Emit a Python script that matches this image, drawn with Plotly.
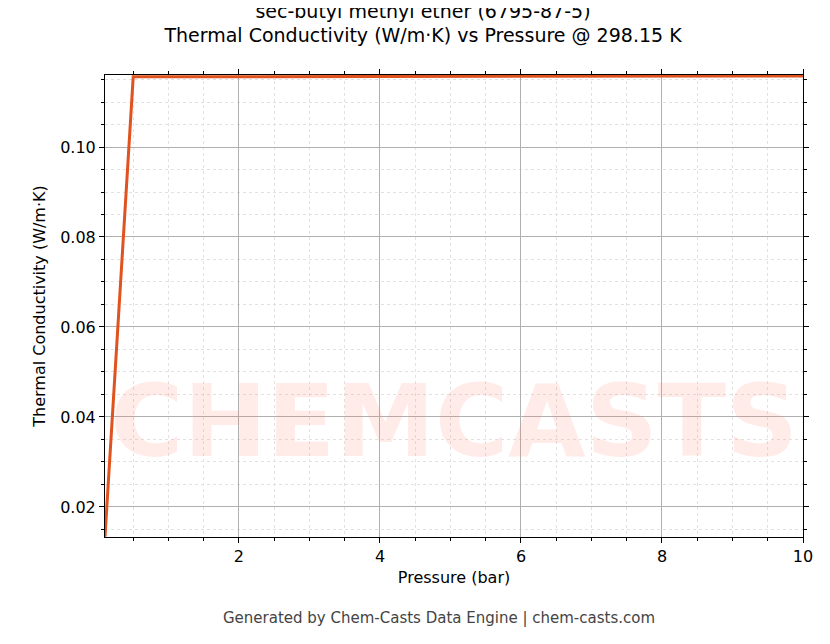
import plotly.graph_objects as go

pressure = [0.1, 0.5, 1, 2, 3, 4, 5, 6, 7, 8, 9, 10]
conductivity = [0.0134, 0.1156, 0.11561, 0.11563, 0.11565, 0.11567, 0.11569, 0.11571, 0.11573, 0.11575, 0.11577, 0.11579]

fig = go.Figure()
fig.add_trace(go.Scatter(x=pressure, y=conductivity, mode="lines",
                         line=dict(color="#e0531f", width=3), showlegend=False))

axis_common = dict(showline=True, linecolor="black", linewidth=1, mirror="allticks",
                   ticks="outside", ticklen=5, tickcolor="black",
                   showgrid=True, gridcolor="#b0b0b0", gridwidth=0.6,
                   zeroline=False,
                   tickfont=dict(size=16, color="black"),
                   minor=dict(ticks="outside", ticklen=3, tickcolor="black",
                              showgrid=True, gridcolor="#e2e2e2", griddash="dot", gridwidth=0.5))

fig.update_xaxes(range=[0.1, 10], tickvals=[2, 4, 6, 8, 10], ticktext=["2", "4", "6", "8", "10"],
                 title=dict(text="Pressure (bar)", font=dict(size=16, color="black"), standoff=6),
                 **axis_common)
fig.update_yaxes(range=[0.01333, 0.116], tickvals=[0.02, 0.04, 0.06, 0.08, 0.10],
                 ticktext=["0.02", "0.04", "0.06", "0.08", "0.10"],
                 title=dict(text="Thermal Conductivity (W/m·K)", font=dict(size=16, color="black"), standoff=10),
                 **axis_common)
fig.update_xaxes(minor=dict(dtick=0.5))
fig.update_yaxes(minor=dict(dtick=0.005))

fig.add_annotation(text="<b>CHEMCASTS</b>", x=0.5, y=0.12, xref="paper", yref="paper", showarrow=False,
                   font=dict(size=100, color="rgba(255,120,100,0.15)", family="DejaVu Sans"))

fig.add_annotation(text="Generated by Chem-Casts Data Engine | chem-casts.com", x=0.5, y=-0.175,
                   xref="paper", yref="paper", showarrow=False, xanchor="center", yanchor="middle",
                   xshift=-15, font=dict(size=15, color="#444444"))

fig.update_layout(
    width=830, height=644,
    title=dict(text="sec-butyl methyl ether (6795-87-5)<br>Thermal Conductivity (W/m·K) vs Pressure @ 298.15 K",
               x=0.5, xanchor="center", y=0.985, yanchor="top", font=dict(size=19, color="black")),
    font=dict(family="DejaVu Sans"),
    plot_bgcolor="white", paper_bgcolor="white",
    margin=dict(l=97, r=35, t=67, b=115),
)
fig.write_html("out.html")
